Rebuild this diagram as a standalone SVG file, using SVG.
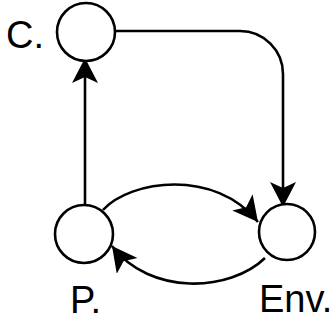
<svg xmlns="http://www.w3.org/2000/svg" width="333" height="320" viewBox="0 0 333 320">
<style>
.node{fill:#fff;stroke:#000;stroke-width:2.6}
.edge{fill:none;stroke:#000;stroke-width:2.6}
.lbl{font-family:"Liberation Sans",Arial,sans-serif;font-size:38px;fill:#000}
</style>
<defs>
<marker id="ah" markerUnits="userSpaceOnUse" markerWidth="28" markerHeight="28" refX="25" refY="13" orient="auto" viewBox="0 0 28 28">
<path d="M0,0 L25,13 L0,26 L6,13 Z" fill="#000"/>
</marker>
</defs>
<rect width="333" height="320" fill="#fff"/>
<g id="connectors">
<path class="edge" d="M115,31 H240 A43,43 0 0 1 283,74 V207" marker-end="url(#ah)"/>
<path class="edge" d="M85,205 V58" marker-end="url(#ah)"/>
<path class="edge" d="M103,210 C130,180 215,168 258,222" marker-end="url(#ah)"/>
<path class="edge" d="M265,258 C230,292 150,296 112,246" marker-end="url(#ah)"/>
</g>
<g id="node-C">
<circle class="node" cx="86" cy="32" r="29"/>
<text class="lbl" x="6" y="48">C.</text>
</g>
<g id="node-P">
<circle class="node" cx="84" cy="234" r="29"/>
<text class="lbl" x="70" y="313">P.</text>
</g>
<g id="node-Env">
<circle class="node" cx="287" cy="232" r="28"/>
<text class="lbl" x="259" y="312">Env.</text>
</g>
</svg>
